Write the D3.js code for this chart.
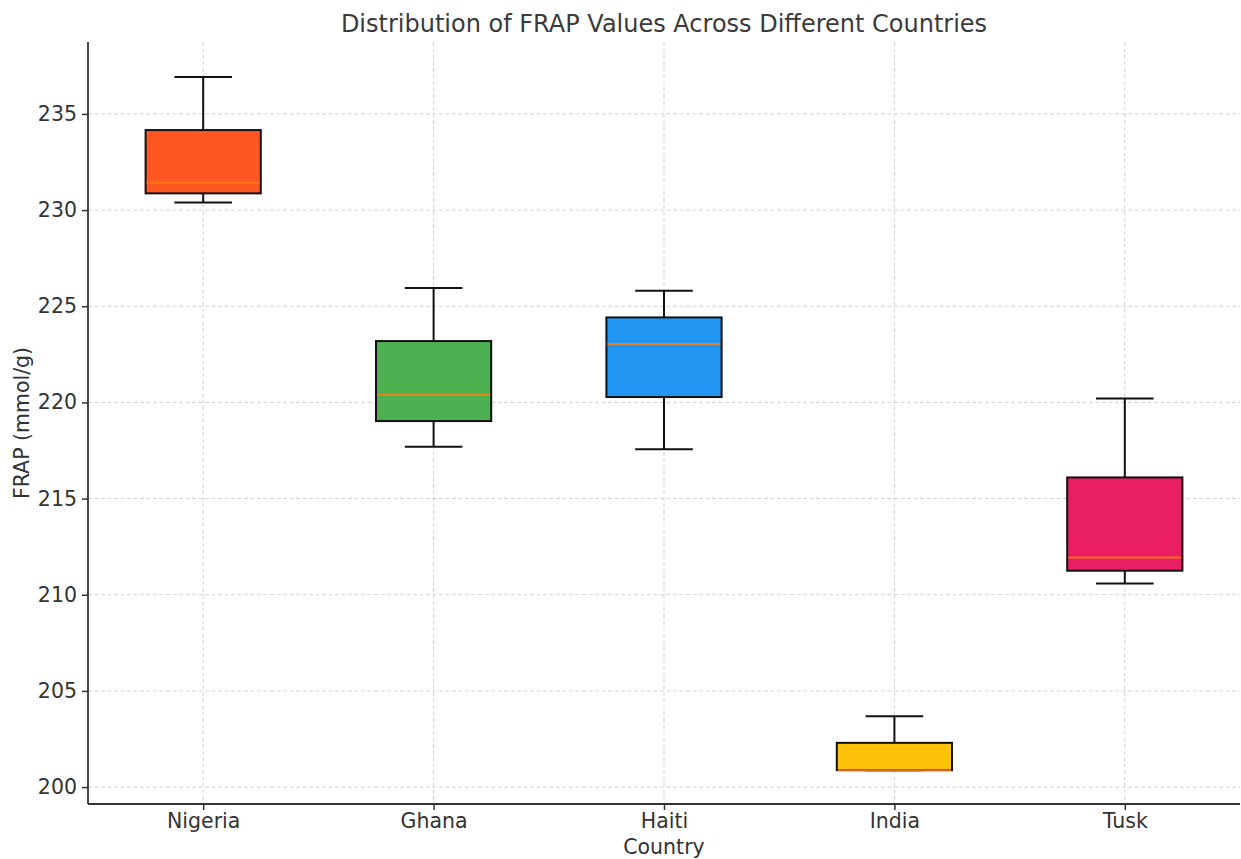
<!DOCTYPE html>
<html><head><meta charset="utf-8">
<script src="https://cdn.jsdelivr.net/npm/d3@7/dist/d3.min.js"></script>
<style>body{margin:0;background:#fff;} text{font-family:"DejaVu Sans",sans-serif;}</style>
</head><body><svg id="c" width="1241" height="859"></svg>
<script>
const countries = ["Nigeria","Ghana","Haiti","India","Tusk"];
const whiskerLow = [230.40, 217.70, 217.56, 200.88, 210.59];
const q1 =         [230.87, 219.03, 220.28, 200.88, 211.25];
const median =     [231.42, 220.40, 223.04, 200.88, 211.94];
const q3 =         [234.16, 223.19, 224.42, 202.30, 216.10];
const whiskerHigh =[236.92, 225.95, 225.81, 203.68, 220.21];
const colors = ["#FF5722","#4CAF50","#2196F3","#FFC107","#E91E63"];
const yTicks = [200,205,210,215,220,225,230,235];

const svg = d3.select("#c");
const L=88, R=1240, T=42, B=804;
const x = d3.scaleLinear().domain([0.5, 5.5]).range([L, R]);
const y = d3.scaleLinear().domain([199.12, 238.74]).range([B, T]);
const boxW = (x(1.25)-x(0.75));

// grid
const grid = svg.append("g").attr("stroke","#cccccc").attr("stroke-width",0.9).attr("stroke-dasharray","4,2.5");
grid.selectAll(".gy").data(yTicks).enter().append("line")
  .attr("x1",L).attr("x2",R).attr("y1",d=>y(d)).attr("y2",d=>y(d));
grid.selectAll(".gx").data(countries).enter().append("line")
  .attr("x1",(d,i)=>x(i+1)).attr("x2",(d,i)=>x(i+1)).attr("y1",T).attr("y2",B);

// boxes
const g = svg.append("g");
countries.forEach((c,i)=>{
  const cx = x(i+1);
  const gg = g.append("g");
  gg.append("line").attr("x1",cx).attr("x2",cx).attr("y1",y(q3[i])).attr("y2",y(whiskerHigh[i])).attr("stroke","#111").attr("stroke-width",2);
  gg.append("line").attr("x1",cx).attr("x2",cx).attr("y1",y(q1[i])).attr("y2",y(whiskerLow[i])).attr("stroke","#111").attr("stroke-width",2);
  gg.append("line").attr("x1",cx-boxW/4).attr("x2",cx+boxW/4).attr("y1",y(whiskerHigh[i])).attr("y2",y(whiskerHigh[i])).attr("stroke","#111").attr("stroke-width",2);
  gg.append("line").attr("x1",cx-boxW/4).attr("x2",cx+boxW/4).attr("y1",y(whiskerLow[i])).attr("y2",y(whiskerLow[i])).attr("stroke","#111").attr("stroke-width",2);
  gg.append("rect").attr("x",cx-boxW/2).attr("width",boxW).attr("y",y(q3[i])).attr("height",y(q1[i])-y(q3[i]))
    .attr("fill",colors[i]).attr("stroke","#111").attr("stroke-width",2);
  gg.append("line").attr("x1",cx-boxW/2+1).attr("x2",cx+boxW/2-1).attr("y1",y(median[i])).attr("y2",y(median[i])).attr("stroke","#ff7f0e").attr("stroke-width",2).attr("opacity",0.85);
});

// axes
const yAxis = svg.append("g").attr("transform",`translate(${L},0)`)
  .call(d3.axisLeft(y).tickValues(yTicks).tickSize(6).tickPadding(5).tickFormat(d3.format("d")));
const xAxis = svg.append("g").attr("transform",`translate(0,${B})`)
  .call(d3.axisBottom(x).tickValues([1,2,3,4,5]).tickSize(6).tickPadding(3).tickFormat(d=>countries[d-1]));
[yAxis,xAxis].forEach(a=>{
  a.select(".domain").remove();
  a.selectAll(".tick line").attr("stroke","#333").attr("stroke-width",1.5);
  a.selectAll("text").attr("fill","#333").style("font-size","20.5px");
});
svg.append("line").attr("x1",L).attr("x2",L).attr("y1",T).attr("y2",B).attr("stroke","#333").attr("stroke-width",1.8);
svg.append("line").attr("x1",L).attr("x2",R).attr("y1",B).attr("y2",B).attr("stroke","#333").attr("stroke-width",1.8);

svg.append("text").attr("x",(L+R)/2).attr("y",32).attr("text-anchor","middle").attr("fill","#3a3a3a").style("font-size","24px")
  .text("Distribution of FRAP Values Across Different Countries");
svg.append("text").attr("x",(L+R)/2).attr("y",854).attr("text-anchor","middle").attr("fill","#333").style("font-size","20.5px").text("Country");
svg.append("text").attr("transform",`translate(29,${(T+B)/2}) rotate(-90)`).attr("text-anchor","middle").attr("fill","#333").style("font-size","20.5px").text("FRAP (mmol/g)");
</script></body></html>
